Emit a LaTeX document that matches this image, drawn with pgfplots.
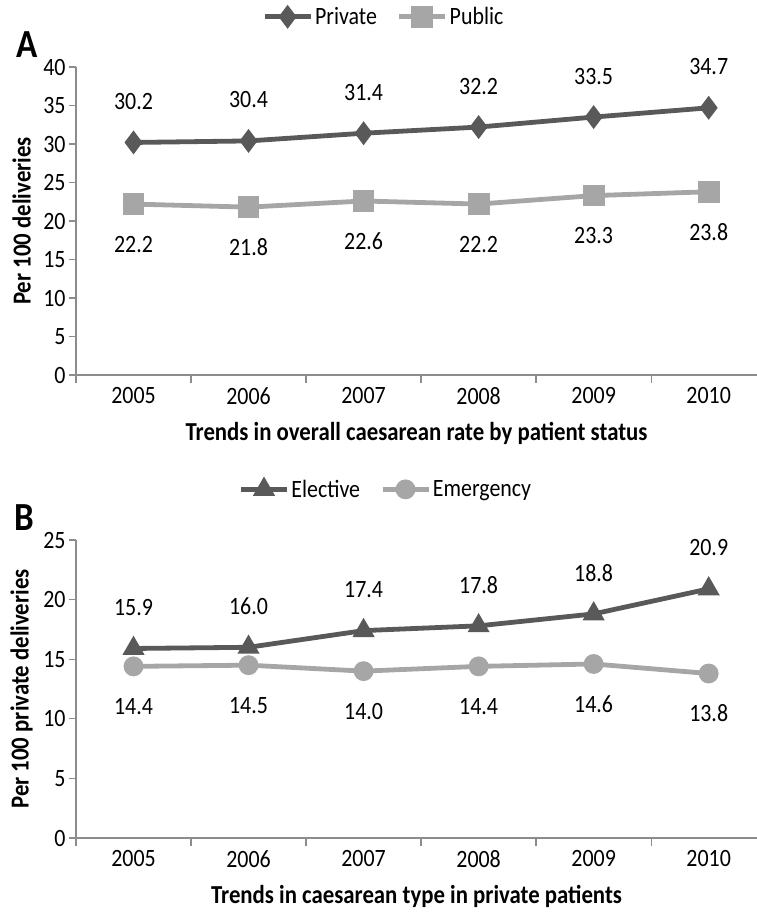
\documentclass[border=0pt]{standalone}
\usepackage{fontspec}
\setmainfont{Carlito}[FakeStretch=0.88]
\usepackage{pgfplots}
\pgfplotsset{compat=1.18}
\definecolor{dark}{RGB}{89,89,89}
\definecolor{light}{RGB}{166,166,166}
\definecolor{axisgray}{RGB}{140,140,140}
\newcommand{\tickfont}{\fontsize{25}{25}\selectfont}
\newcommand{\labfont}{\bfseries\fontsize{26}{26}\selectfont}
\pgfplotsset{
  panel/.style={
    scale only axis, width=681bp,
    xmin=-0.5, xmax=5.42,
    axis x line*=bottom, axis y line*=left,
    axis line style={axisgray, line width=1.3bp},
    every tick/.style={axisgray, line width=1.3bp},
    tick align=outside,
    major tick length=7bp, minor tick length=8bp,
    xtick={0,...,5}, xticklabels={2005,2006,2007,2008,2009,2010},
    major x tick style={draw=none},
    minor xtick={-0.5,0.5,1.5,2.5,3.5,4.5},
    ymin=0,
    ticklabel style={font=\tickfont, text=black},
    /pgf/number format/assume math mode=true,
    xticklabel style={yshift=-2bp},
    x label style={font=\labfont, at={(axis description cs:0.5,0)}, anchor=center, yshift=-58bp},
    y label style={font=\labfont, at={(axis description cs:-0.08,0.5)}, anchor=center},
    legend columns=2,
    legend style={draw=none, fill=none, font=\tickfont, anchor=center,
      /tikz/every even column/.append style={column sep=18bp}},
    legend image code/.code={\draw[#1, mark repeat=2, mark phase=2] plot coordinates {(0bp,0bp) (23bp,0bp) (46bp,0bp)};},
    nodes near coords={\pgfmathprintnumber[fixed,fixed zerofill,precision=1,assume math mode=true]{\pgfplotspointmeta}},
    every node near coord/.append style={font=\tickfont, text=black, anchor=center},
    clip=false,
  },
  above/.style={every node near coord/.append style={yshift=41bp}},
  below/.style={every node near coord/.append style={yshift=-40bp}},
}
\begin{document}
\begin{tikzpicture}
\useasboundingbox (0,0) rectangle (757bp,-914bp);
% Panel A
\begin{axis}[panel, at={(76bp,-375bp)}, anchor=south west, height=308bp,
  ymax=40, ytick={0,5,...,40},
  ylabel={Per 100 deliveries},
  xlabel={Trends in overall caesarean rate by patient status},
  legend style={at={(0.452,1.163)}}]
\addplot[dark, line width=4.8bp, mark=diamond*, mark size=8bp, mark options={solid}, above]
  coordinates {(0,30.2) (1,30.4) (2,31.4) (3,32.2) (4,33.5) (5,34.7)};
\addlegendentry{Private}
\addplot[light, line width=4.8bp, mark=square*, mark size=8.5bp, mark options={solid}, below]
  coordinates {(0,22.2) (1,21.8) (2,22.6) (3,22.2) (4,23.3) (5,23.8)};
\addlegendentry{Public}
\end{axis}
\node[font=\bfseries\fontsize{40}{40}\selectfont] at (27bp,-45bp) {A};
% Panel B
\begin{axis}[panel, at={(76bp,-838bp)}, anchor=south west, height=298bp,
  ymax=25, ytick={0,5,...,25},
  ylabel={Per 100 private deliveries},
  xlabel={Trends in caesarean type in private patients},
  legend style={at={(0.455,1.17)}}]
\addplot[dark, line width=4.8bp, mark=triangle*, mark size=8bp, mark options={solid}, above]
  coordinates {(0,15.9) (1,16.0) (2,17.4) (3,17.8) (4,18.8) (5,20.9)};
\addlegendentry{Elective}
\addplot[light, line width=4.8bp, mark=*, mark size=7.5bp, mark options={solid}, below]
  coordinates {(0,14.4) (1,14.5) (2,14.0) (3,14.4) (4,14.6) (5,13.8)};
\addlegendentry{Emergency}
\end{axis}
\node[font=\bfseries\fontsize{40}{40}\selectfont] at (24bp,-518bp) {B};
\end{tikzpicture}
\end{document}
